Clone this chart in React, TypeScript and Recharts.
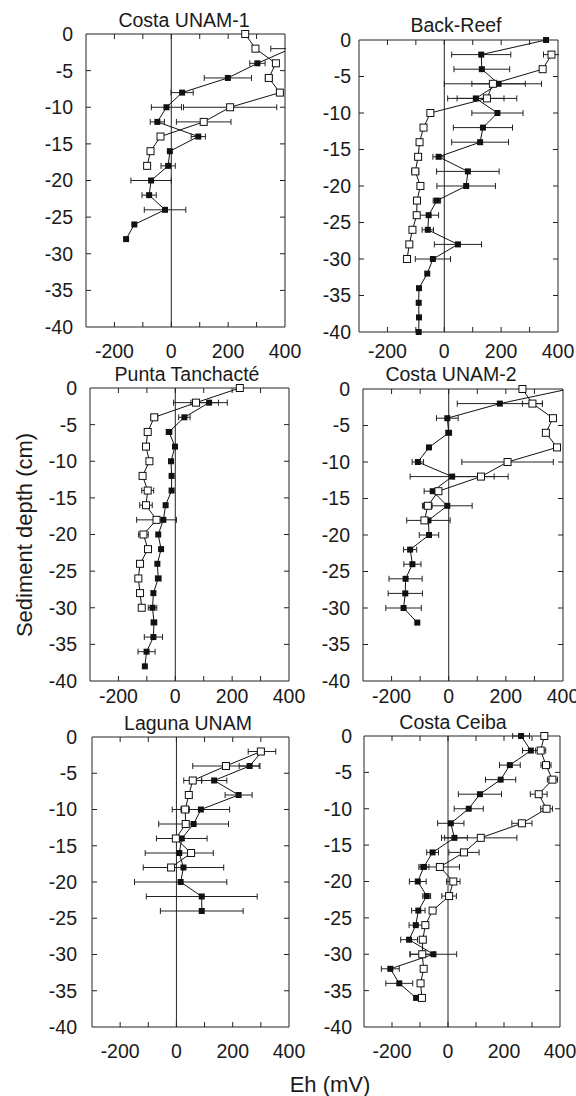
import React from 'react';
import { ScatterChart, Scatter, XAxis, YAxis, ErrorBar, ReferenceLine } from 'recharts';

const FONT = '"Liberation Sans", Arial, Helvetica, sans-serif';

// sampling depths (cm), every Eh array below is aligned to this list
const DEPTH = [0, -2, -4, -6, -8, -10, -12, -14, -16, -18, -20, -22, -24, -26, -28, -30, -32, -34, -36, -38, -40];
const EH_TICKS = [-300, -200, -100, 0, 100, 200, 300, 400];
const DEPTH_TICKS = [0, -5, -10, -15, -20, -25, -30, -35, -40];

// Costa UNAM-1
const unam1FilledEh = [null, 420, 303, 199, 38, -17, -49, 95, -5, -11, -71, -78, -22, -130, -159];
const unam1FilledErr = [0, 70, 27, 83, 39, 53, 25, 25, 0, 25, 71, 25, 73, 0, 0];
const unam1OpenEh = [260, 296, 368, 343, 382, 207, 114, -38, -73, -85];
const unam1OpenErr = [0, 0, 0, 12, 0, 164, 96, 0, 0, 0];

// Back-Reef
const backReefFilledEh = [358, 130, 132, 191, 111, 187, 136, 126, -20, 83, 77, -26, -55, -58, 48, -40, -60, -89, -90, -89, -90];
const backReefFilledErr = [0, 104, 98, 94, 99, 90, 104, 100, 20, 110, 103, 13, 35, 20, 83, 62, 0, 0, 0, 0, 0];
const backReefOpenEh = [null, 377, 346, 171, 150, -49, -73, -87, -92, -102, -84, -96, -97, -112, -123, -131];
const backReefOpenErr = [0, 28, 0, 171, 105, 0, 0, 0, 10, 12, 0, 0, 10, 0, 0, 0];

// Punta Tanchacté
const puntaFilledEh = [null, 119, 32, -22, -1, -15, -13, -13, -34, -42, -60, -50, -63, -60, -77, -80, -75, -77, -101, -107];
const puntaFilledErr = [0, 64, 20, 10, 0, 0, 0, 0, 0, 0, 0, 0, 0, 10, 0, 15, 10, 32, 30, 0];
const puntaOpenEh = [227, 73, -74, -97, -103, -91, -115, -97, -103, -66, -112, -96, -124, -130, -124, -118];
const puntaOpenErr = [0, 79, 12, 0, 0, 0, 0, 21, 22, 70, 17, 0, 0, 0, 0, 0];

// Costa UNAM-2
const unam2FilledEh = [420, 179, -5, 0, -69, -108, 12, -56, -5, -71, -69, -135, -127, -151, -152, -158, -110];
const unam2FilledErr = [0, 149, 38, 10, 0, 20, 147, 30, 87, 76, 34, 23, 30, 58, 60, 62, 0];
const unam2OpenEh = [258, 293, 365, 340, 379, 206, 113, -36, -73, -85];
const unam2OpenErr = [0, 35, 0, 10, 0, 160, 95, 0, 15, 0];

// Laguna UNAM
const lagunaFilledEh = [null, 304, 260, 134, 221, 87, 61, 19, 10, 25, 15, 90, 90];
const lagunaFilledErr = [0, 49, 37, 45, 48, 102, 124, 90, 121, 143, 164, 197, 147];
const lagunaOpenEh = [null, 300, 176, 58, 44, 31, 33, -2, 52, -19];
const lagunaOpenErr = [0, 0, 118, 32, 0, 15, 0, 0, 0, 0];

// Costa Ceiba
const ceibaFilledEh = [261, 296, 221, 188, 114, 74, 10, 23, -55, -86, -108, -76, -106, -115, -139, -52, -206, -174, -114];
const ceibaFilledErr = [30, 30, 37, 54, 77, 52, 47, 46, 21, 18, 30, 14, 24, 24, 30, 83, 32, 48, 0];
const ceibaOpenEh = [344, 331, 350, 373, 324, 352, 264, 117, 57, -29, 19, 4, -55, -81, -90, -92, -87, -98, -93];
const ceibaOpenErr = [0, 18, 18, 18, 30, 21, 36, 129, 54, 70, 24, 26, 0, 0, 0, 44, 0, 0, 0];

const toPoints = (eh: (number | null)[], err: number[]) =>
  eh
    .map((v, i) => ({ depth: DEPTH[i], eh: v, err: err[i] || 0 }))
    .filter((p) => p.eh !== null && p.eh !== undefined);

const FilledSquare = (props: any) => (
  <rect x={props.cx - 3} y={props.cy - 3} width={6} height={6} fill="#111" />
);
const OpenSquare = (props: any) => (
  <rect x={props.cx - 3.5} y={props.cy - 3.5} width={7} height={7} fill="#fff" stroke="#111" strokeWidth={1} />
);

// plot box in page pixels (L, T, R, B), label gaps per panel
const PANELS = [
  { title: 'Costa UNAM-1', L: 86, T: 34, R: 285, B: 327, yGap: 13, xBase: 31, tx: 184, ty: 27, filled: toPoints(unam1FilledEh, unam1FilledErr), open: toPoints(unam1OpenEh, unam1OpenErr) },
  { title: 'Back-Reef', L: 359, T: 40, R: 558, B: 332, yGap: 8, xBase: 26, tx: 456, ty: 32, filled: toPoints(backReefFilledEh, backReefFilledErr), open: toPoints(backReefOpenEh, backReefOpenErr) },
  { title: 'Punta Tanchacté', L: 90, T: 388, R: 289, B: 681, yGap: 13, xBase: 22, tx: 187, ty: 381, filled: toPoints(puntaFilledEh, puntaFilledErr), open: toPoints(puntaOpenEh, puntaOpenErr) },
  { title: 'Costa UNAM-2', L: 363, T: 389, R: 563, B: 681, yGap: 13, xBase: 22, tx: 451, ty: 381, filled: toPoints(unam2FilledEh, unam2FilledErr), open: toPoints(unam2OpenEh, unam2OpenErr) },
  { title: 'Laguna UNAM', L: 92, T: 737, R: 289, B: 1027, yGap: 15, xBase: 31, tx: 188, ty: 730, filled: toPoints(lagunaFilledEh, lagunaFilledErr), open: toPoints(lagunaOpenEh, lagunaOpenErr) },
  { title: 'Costa Ceiba', L: 364, T: 736, R: 560, B: 1027, yGap: 12, xBase: 31, tx: 453, ty: 729, filled: toPoints(ceibaFilledEh, ceibaFilledErr), open: toPoints(ceibaOpenEh, ceibaOpenErr) },
];

const tickStyle = { fill: '#1a1a1a', fontSize: 19.5, fontFamily: FONT };
const ehLabel = (v: number) => (v % 200 === 0 ? String(v) : '');
const noLabel = () => '';
const TICK_PX = 5;

// the four box sides (mirrored axes, no labels)
const boxX = { type: 'number' as const, domain: [-300, 400], ticks: EH_TICKS, allowDataOverflow: true, height: 1, mirror: true, tickLine: false, tickFormatter: noLabel, stroke: '#222' };
const boxY = { type: 'number' as const, domain: [-40, 0], ticks: DEPTH_TICKS, allowDataOverflow: true, width: 1, mirror: true, tickLine: false, tickFormatter: noLabel, stroke: '#222' };

const Panel = ({ p }: { p: (typeof PANELS)[number] }) => {
  const w = p.R - p.L;
  const h = p.B - p.T;
  const cw = w + 85;
  const ch = h + 50;
  // inward tick length in data units
  const xLen = (TICK_PX * 700) / w;
  const yLen = (TICK_PX * 40) / h;
  const ehInner = EH_TICKS.slice(1, -1);
  const depthInner = DEPTH_TICKS.slice(1, -1);
  // hide whatever runs past the right edge of the box (off-scale values)
  const clip = `polygon(0 0, ${60 + w + 1}px 0, ${60 + w + 1}px ${10 + h + 1}px, ${cw}px ${10 + h + 1}px, ${cw}px ${ch}px, 0 ${ch}px)`;
  return (
    <div style={{ position: 'absolute', left: p.L - 60, top: p.T - 10, width: cw, height: ch, clipPath: clip }}>
      <ScatterChart width={cw} height={ch} margin={{ top: 10, right: 25, bottom: 0, left: 0 }}>
        <XAxis
          xAxisId="b"
          type="number"
          dataKey="eh"
          domain={[-300, 400]}
          ticks={EH_TICKS}
          interval={0}
          allowDataOverflow
          height={40}
          axisLine={false}
          tickLine={false}
          tickSize={0}
          tickMargin={p.xBase - 14}
          tickFormatter={ehLabel}
          tick={tickStyle}
        />
        <XAxis xAxisId="bm" {...boxX} />
        <XAxis xAxisId="tm" orientation="top" {...boxX} />
        <YAxis
          yAxisId="l"
          type="number"
          dataKey="depth"
          domain={[-40, 0]}
          ticks={DEPTH_TICKS}
          interval={0}
          width={60}
          axisLine={false}
          tickLine={false}
          tickSize={0}
          tickMargin={p.yGap}
          tick={tickStyle}
        />
        <YAxis yAxisId="lm" {...boxY} />
        <YAxis yAxisId="rm" orientation="right" {...boxY} />
        {ehInner.map((v) => (
          <ReferenceLine key={`b${v}`} xAxisId="b" yAxisId="l" segment={[{ x: v, y: -40 }, { x: v, y: -40 + yLen }]} stroke="#222" />
        ))}
        {ehInner.map((v) => (
          <ReferenceLine key={`t${v}`} xAxisId="b" yAxisId="l" segment={[{ x: v, y: 0 }, { x: v, y: -yLen }]} stroke="#222" />
        ))}
        {depthInner.map((d) => (
          <ReferenceLine key={`l${d}`} xAxisId="b" yAxisId="l" segment={[{ x: -300, y: d }, { x: -300 + xLen, y: d }]} stroke="#222" />
        ))}
        {depthInner.map((d) => (
          <ReferenceLine key={`r${d}`} xAxisId="b" yAxisId="l" segment={[{ x: 400 - xLen, y: d }, { x: 400, y: d }]} stroke="#222" />
        ))}
        <ReferenceLine xAxisId="b" yAxisId="l" x={0} stroke="#222" strokeWidth={1} />
        <Scatter
          xAxisId="b"
          yAxisId="l"
          data={p.filled}
          line={{ stroke: '#111', strokeWidth: 1 }}
          lineType="joint"
          shape={FilledSquare}
          isAnimationActive={false}
        >
          <ErrorBar dataKey="err" direction="x" width={3} stroke="#222" strokeWidth={1} />
        </Scatter>
        <Scatter
          xAxisId="b"
          yAxisId="l"
          data={p.open}
          line={{ stroke: '#111', strokeWidth: 1 }}
          lineType="joint"
          shape={OpenSquare}
          isAnimationActive={false}
        >
          <ErrorBar dataKey="err" direction="x" width={3} stroke="#222" strokeWidth={1} />
        </Scatter>
      </ScatterChart>
    </div>
  );
};

export default function App() {
  return (
    <div style={{ position: 'absolute', left: 0, top: 0, width: 576, height: 1096, background: '#fff', fontFamily: FONT, overflow: 'hidden' }}>
      {PANELS.map((p) => (
        <Panel key={p.title} p={p} />
      ))}
      <svg width={576} height={1096} style={{ position: 'absolute', left: 0, top: 0, pointerEvents: 'none' }}>
        {PANELS.map((p) => (
          <text key={p.title} x={p.tx} y={p.ty} textAnchor="middle" fontSize={19.5} fill="#1a1a1a" fontFamily={FONT}>
            {p.title}
          </text>
        ))}
        <text x={32} y={535} transform="rotate(-90, 32, 535)" textAnchor="middle" fontSize={22} fill="#1a1a1a" fontFamily={FONT}>
          Sediment depth (cm)
        </text>
        <text x={330} y={1092} textAnchor="middle" fontSize={22} fill="#1a1a1a" fontFamily={FONT}>
          Eh (mV)
        </text>
      </svg>
    </div>
  );
}
